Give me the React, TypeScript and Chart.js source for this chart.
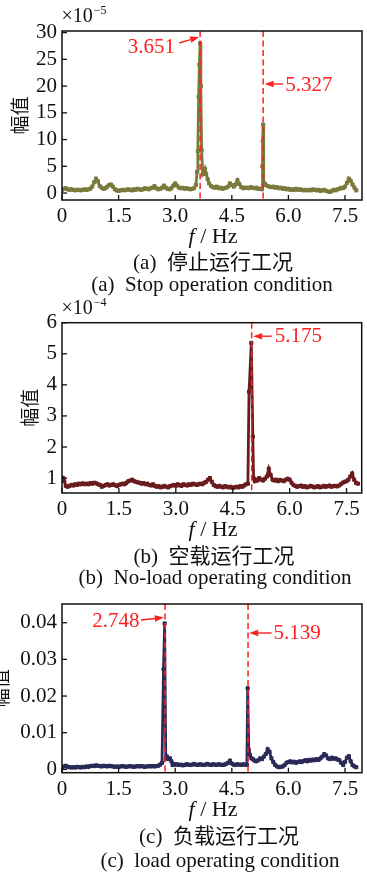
import React, { useEffect, useRef } from "react";
import { Chart, registerables } from "chart.js";
Chart.register(...registerables);

// ---------- DATA ----------
const xTicks = [0, 1.5, 3.0, 4.5, 6.0, 7.5];
const yTicksA = [0, 5, 10, 15, 20, 25, 30];
const yTicksB = [1, 2, 3, 4, 5, 6];
const yTicksC = [0, 0.01, 0.02, 0.03, 0.04];

// (a) stop condition, amplitude x1e-5
const freqA = [
  0.0, 0.05, 0.1, 0.15, 0.2, 0.25, 0.3, 0.35, 0.4, 0.45, 0.5, 0.55, 0.6, 0.65, 0.7, 0.75, 0.8, 0.85, 0.9, 0.95,
  1.0, 1.05, 1.1, 1.15, 1.2, 1.25, 1.3, 1.35, 1.4, 1.45, 1.5, 1.55, 1.6, 1.65, 1.7, 1.75, 1.8, 1.85, 1.9, 1.95,
  2.0, 2.05, 2.1, 2.15, 2.2, 2.25, 2.3, 2.35, 2.4, 2.45, 2.5, 2.55, 2.6, 2.65, 2.7, 2.75, 2.8, 2.85, 2.9, 2.95,
  3.0, 3.05, 3.1, 3.15, 3.2, 3.25, 3.3, 3.35, 3.4, 3.45, 3.5, 3.55, 3.58, 3.6, 3.62, 3.64, 3.66, 3.68, 3.7, 3.73,
  3.76, 3.79, 3.82, 3.86, 3.9, 3.95, 4.0, 4.05, 4.1, 4.15, 4.2, 4.25, 4.3, 4.35, 4.4, 4.45, 4.5, 4.55, 4.6, 4.65,
  4.7, 4.75, 4.8, 4.85, 4.9, 4.95, 5.0, 5.05, 5.1, 5.15, 5.2, 5.25, 5.3, 5.31, 5.32, 5.33, 5.345, 5.37, 5.4, 5.45,
  5.5, 5.55, 5.6, 5.65, 5.7, 5.75, 5.8, 5.85, 5.9, 5.95, 6.0, 6.05, 6.1, 6.15, 6.2, 6.25, 6.3, 6.35, 6.4, 6.45,
  6.5, 6.55, 6.6, 6.65, 6.7, 6.75, 6.8, 6.85, 6.9, 6.95, 7.0, 7.05, 7.1, 7.15, 7.2, 7.25, 7.3, 7.35, 7.4, 7.45,
  7.5, 7.55, 7.6, 7.65, 7.7, 7.75, 7.8,
];
const ampA = [
  0.6, 0.8, 0.9, 0.7, 0.6, 0.7, 0.6, 0.5, 0.6, 0.6, 0.5, 0.6, 0.7, 0.6, 0.7, 0.8, 1.2, 2.0, 2.7, 2.2,
  1.3, 1.0, 0.8, 0.9, 1.2, 1.5, 1.6, 1.2, 0.7, 0.5, 0.4, 0.5, 0.6, 0.5, 0.6, 0.7, 0.6, 0.5, 0.7, 0.6,
  0.8, 0.7, 0.6, 0.7, 0.9, 0.8, 0.7, 0.9, 1.0, 1.3, 0.9, 0.7, 0.8, 1.0, 1.4, 1.0, 0.8, 0.7, 0.9, 1.4,
  1.8, 1.4, 1.0, 0.9, 1.0, 0.8, 0.9, 0.8, 0.7, 0.8, 0.9, 1.5, 4.0, 7.8, 18.0, 24.0, 28.0, 20.0, 8.0, 3.5,
  3.8, 4.5, 3.6, 2.6, 1.8, 1.3, 1.1, 1.0, 1.2, 0.9, 1.0, 0.8, 0.9, 1.0, 1.2, 1.8, 1.5, 1.2, 1.6, 2.4,
  1.7, 1.1, 0.9, 1.0, 1.0, 0.9, 1.1, 1.0, 0.9, 1.0, 0.8, 0.8, 0.7, 5.0, 9.7, 12.8, 1.5, 1.8, 1.5, 1.3,
  1.2, 1.1, 1.2, 1.0, 1.1, 0.9, 1.0, 0.8, 0.9, 0.7, 0.8, 0.6, 0.7, 0.6, 0.8, 0.6, 0.7, 0.6, 0.5, 0.6,
  0.5, 0.6, 0.5, 0.7, 0.6, 0.5, 0.6, 0.4, 0.5, 0.6, 0.4, 0.3, 0.2, 0.4, 0.6, 0.5, 0.7, 0.8, 1.0, 0.9,
  1.2, 1.9, 2.7, 2.3, 1.6, 1.0, 0.5,
];

// (b) no-load condition, amplitude x1e-4
const freqB = [
  0.0, 0.03, 0.06, 0.1, 0.15, 0.2, 0.25, 0.3, 0.35, 0.4, 0.45, 0.5, 0.55, 0.6, 0.65, 0.7, 0.75, 0.8, 0.85, 0.9,
  0.95, 1.0, 1.05, 1.1, 1.15, 1.2, 1.25, 1.3, 1.35, 1.4, 1.45, 1.5, 1.55, 1.6, 1.65, 1.7, 1.75, 1.8, 1.85, 1.9,
  1.95, 2.0, 2.05, 2.1, 2.15, 2.2, 2.25, 2.3, 2.35, 2.4, 2.45, 2.5, 2.55, 2.6, 2.65, 2.7, 2.75, 2.8, 2.85, 2.9,
  2.95, 3.0, 3.05, 3.1, 3.15, 3.2, 3.25, 3.3, 3.35, 3.4, 3.45, 3.5, 3.55, 3.6, 3.65, 3.7, 3.75, 3.8, 3.85, 3.9,
  3.95, 4.0, 4.05, 4.1, 4.15, 4.2, 4.25, 4.3, 4.35, 4.4, 4.45, 4.5, 4.55, 4.6, 4.65, 4.7, 4.75, 4.8, 4.85, 4.9,
  4.93, 4.99, 5.03, 5.05, 5.08, 5.12, 5.15, 5.2, 5.25, 5.3, 5.35, 5.4, 5.45, 5.5, 5.55, 5.6, 5.65, 5.7, 5.75, 5.8,
  5.85, 5.9, 5.95, 6.0, 6.05, 6.1, 6.15, 6.2, 6.25, 6.3, 6.35, 6.4, 6.45, 6.5, 6.55, 6.6, 6.65, 6.7, 6.75, 6.8,
  6.85, 6.9, 6.95, 7.0, 7.05, 7.1, 7.15, 7.2, 7.25, 7.3, 7.35, 7.4, 7.45, 7.5, 7.55, 7.6, 7.65, 7.7, 7.75, 7.8,
];
const ampB = [
  0.95, 1.0, 0.9, 0.75, 0.72, 0.75, 0.78, 0.76, 0.8, 0.78, 0.82, 0.8, 0.83, 0.8, 0.82, 0.8, 0.84, 0.82, 0.85, 0.83,
  0.8, 0.78, 0.72, 0.75, 0.78, 0.8, 0.76, 0.78, 0.8, 0.77, 0.74, 0.78, 0.8, 0.82, 0.8, 0.85, 0.9, 0.92, 0.95, 0.9,
  0.88, 0.86, 0.85, 0.82, 0.84, 0.8, 0.82, 0.78, 0.76, 0.8, 0.75, 0.72, 0.74, 0.7, 0.72, 0.75, 0.72, 0.7, 0.74, 0.76,
  0.78, 0.75, 0.8, 0.77, 0.75, 0.8, 0.78, 0.76, 0.8, 0.78, 0.82, 0.8, 0.78, 0.8, 0.82, 0.8, 0.85, 0.88, 0.95, 1.0,
  0.88, 0.78, 0.74, 0.72, 0.75, 0.72, 0.7, 0.74, 0.72, 0.7, 0.72, 0.68, 0.7, 0.72, 0.7, 0.74, 0.72, 0.76, 0.8, 0.82,
  3.78, 5.35, 2.33, 1.0, 0.9, 0.95, 0.92, 1.0, 0.95, 0.92, 0.98, 1.05, 1.3, 1.1, 0.95, 0.92, 0.95, 0.9, 0.94, 0.92,
  0.9, 0.95, 0.98, 0.95, 0.85, 0.78, 0.75, 0.72, 0.74, 0.76, 0.72, 0.74, 0.7, 0.72, 0.75, 0.73, 0.7, 0.72, 0.74, 0.7,
  0.72, 0.75, 0.72, 0.74, 0.76, 0.72, 0.74, 0.75, 0.73, 0.76, 0.8, 0.85, 0.88, 0.9, 0.95, 1.05, 1.15, 0.95, 0.85, 0.82,
];

// (c) load condition, amplitude
const freqC = [
  0.0, 0.05, 0.1, 0.15, 0.2, 0.25, 0.3, 0.35, 0.4, 0.45, 0.5, 0.55, 0.6, 0.65, 0.7, 0.75, 0.8, 0.85, 0.9, 0.95,
  1.0, 1.05, 1.1, 1.15, 1.2, 1.25, 1.3, 1.35, 1.4, 1.45, 1.5, 1.55, 1.6, 1.65, 1.7, 1.75, 1.8, 1.85, 1.9, 1.95,
  2.0, 2.05, 2.1, 2.15, 2.2, 2.25, 2.3, 2.35, 2.4, 2.45, 2.5, 2.55, 2.6, 2.65, 2.69, 2.72, 2.75, 2.78, 2.82, 2.86,
  2.9, 2.93, 2.96, 3.0, 3.05, 3.1, 3.15, 3.2, 3.25, 3.3, 3.35, 3.4, 3.45, 3.5, 3.55, 3.6, 3.65, 3.7, 3.75, 3.8,
  3.85, 3.9, 3.95, 4.0, 4.05, 4.1, 4.15, 4.2, 4.25, 4.3, 4.35, 4.4, 4.45, 4.5, 4.55, 4.6, 4.65, 4.7, 4.75, 4.8,
  4.85, 4.9, 4.92, 4.95, 4.98, 5.02, 5.06, 5.1, 5.15, 5.2, 5.25, 5.3, 5.35, 5.4, 5.45, 5.5, 5.55, 5.6, 5.65, 5.7,
  5.75, 5.8, 5.85, 5.9, 5.95, 6.0, 6.05, 6.1, 6.15, 6.2, 6.25, 6.3, 6.35, 6.4, 6.45, 6.5, 6.55, 6.6, 6.65, 6.7,
  6.75, 6.8, 6.85, 6.9, 6.95, 7.0, 7.05, 7.1, 7.15, 7.2, 7.25, 7.3, 7.35, 7.4, 7.45, 7.5, 7.55, 7.6, 7.65, 7.7,
  7.75, 7.8,
];
const ampC = [
  0.0006, 0.0008, 0.001, 0.0007, 0.0006, 0.0005, 0.0006, 0.0005, 0.0007, 0.0006, 0.0005, 0.0007, 0.0006, 0.0008, 0.0007, 0.0009, 0.001, 0.0009, 0.0011, 0.001,
  0.0009, 0.0008, 0.001, 0.0009, 0.0008, 0.001, 0.0009, 0.0008, 0.0007, 0.0008, 0.0007, 0.0008, 0.0009, 0.0008, 0.0007, 0.0008, 0.0009, 0.0008, 0.0007, 0.0008,
  0.0009, 0.0008, 0.0009, 0.0008, 0.0007, 0.0008, 0.0009, 0.0008, 0.0009, 0.0008, 0.0009, 0.001, 0.0013, 0.0018, 0.0273, 0.0398, 0.003, 0.0035, 0.0028, 0.003,
  0.0022, 0.0012, 0.0015, 0.0013, 0.0014, 0.0012, 0.0013, 0.0011, 0.0012, 0.0014, 0.0013, 0.0012, 0.0013, 0.0015, 0.0013, 0.0012, 0.0014, 0.0013, 0.0012, 0.0013,
  0.0015, 0.0013, 0.0012, 0.0014, 0.0013, 0.0012, 0.0014, 0.0013, 0.0012, 0.0013, 0.0015, 0.0018, 0.0024, 0.0016, 0.0013, 0.0012, 0.0014, 0.0013, 0.0012, 0.0014,
  0.0013, 0.0012, 0.0221, 0.0053, 0.004, 0.003, 0.0028, 0.0024, 0.0022, 0.0025, 0.003, 0.0028, 0.0035, 0.0042, 0.0055, 0.0048, 0.003, 0.002, 0.0012, 0.0008,
  0.0006, 0.0007, 0.0008, 0.0012, 0.0018, 0.002, 0.0022, 0.0019, 0.0021, 0.0018, 0.002, 0.0022, 0.002, 0.0023, 0.0025, 0.0022, 0.0026, 0.0024, 0.0027, 0.0025,
  0.0028, 0.0026, 0.003, 0.0035, 0.0042, 0.0038, 0.003, 0.0028, 0.0032, 0.0029, 0.003, 0.0027, 0.0025, 0.0018, 0.0012, 0.002, 0.0032, 0.0036, 0.0022, 0.0012,
  0.0008, 0.0006,
];

// marked peak frequencies (as drawn) and their labels
const peakFreqA = [3.66, 5.33];
const peakLabelA = ["3.651", "5.327"];
const peakFreqB = [5.0];
const peakLabelB = ["5.175"];
const peakFreqC = [2.73, 4.93];
const peakLabelC = ["2.748", "5.139"];

// ---------- STYLE ----------
const SERIF = '"Liberation Serif", "Times New Roman", "Noto Sans CJK SC", serif';
const RED = "#ff1f1f";

type Ann = { side: "left" | "right"; ty: number; gap: number; tail: [number, number]; head: [number, number] };

type PanelCfg = {
  top: number;
  height: number;
  padTop: number;
  padRight: number;
  xAxisH: number;
  xMax: number;
  yMin: number;
  yMax: number;
  yTicks: number[];
  yFmt: (v: number) => string;
  freq: number[];
  amp: number[];
  color: string;
  peaks: number[];
  labels: string[];
  anns: Ann[];
  exp: string | null;
  yTitlePad: number;
};

const panels: PanelCfg[] = [
  {
    top: 0, height: 228, padTop: 31, padRight: 0.5, xAxisH: 28, xMax: 7.95, yMin: -1.3, yMax: 30.3,
    yTicks: yTicksA, yFmt: (v) => String(v), freq: freqA, amp: ampA, color: "#7b7a3c",
    peaks: peakFreqA, labels: peakLabelA,
    anns: [
      { side: "left", ty: 16, gap: 25, tail: [-21, 12], head: [-1, 6] },
      { side: "right", ty: 54, gap: 22, tail: [20, 53], head: [1.5, 53] },
    ],
    exp: "-5", yTitlePad: 10.6,
  },
  {
    top: 290, height: 230, padTop: 32.7, padRight: 5.3, xAxisH: 27, xMax: 7.9, yMin: 0.52, yMax: 6.0,
    yTicks: yTicksB, yFmt: (v) => String(v), freq: freqB, amp: ampB, color: "#6a1c1f",
    peaks: peakFreqB, labels: peakLabelB,
    anns: [{ side: "right", ty: 14, gap: 23, tail: [20, 13.5], head: [1.5, 13.5] }],
    exp: "-4", yTitlePad: 20.6,
  },
  {
    top: 570, height: 230, padTop: 34, padRight: 2.5, xAxisH: 27.3, xMax: 7.95, yMin: -0.0009, yMax: 0.0451,
    yTicks: yTicksC, yFmt: (v) => (v === 0 ? "0" : v.toFixed(2)), freq: freqC, amp: ampC, color: "#2b2a58",
    peaks: peakFreqC, labels: peakLabelC,
    anns: [
      { side: "left", ty: 17.7, gap: 25.5, tail: [-24, 16], head: [-1.2, 13.5] },
      { side: "right", ty: 29.3, gap: 25.5, tail: [23.5, 29], head: [1.2, 29] },
    ],
    exp: null, yTitlePad: -8.4,
  },
];

const captions = [
  { cy: 237, zh: "(a)  停止运行工况", en: "(a)  Stop operation condition", zy: 263, ey: 285, zx: 213, ex: 212 },
  { cy: 530, zh: "(b)  空载运行工况", en: "(b)  No-load operating condition", zy: 557, ey: 578, zx: 214, ex: 215 },
  { cy: 810, zh: "(c)  负载运行工况", en: "(c)  load operating condition", zy: 837, ey: 861, zx: 219, ex: 220 },
];

function drawArrow(ctx: CanvasRenderingContext2D, x1: number, y1: number, x2: number, y2: number) {
  const ang = Math.atan2(y2 - y1, x2 - x1);
  const hl = 9, hw = 3.2;
  const bx = x2 - hl * Math.cos(ang), by = y2 - hl * Math.sin(ang);
  ctx.beginPath();
  ctx.moveTo(x1, y1);
  ctx.lineTo(bx, by);
  ctx.lineWidth = 1.4;
  ctx.strokeStyle = RED;
  ctx.stroke();
  ctx.beginPath();
  ctx.moveTo(x2, y2);
  ctx.lineTo(bx + hw * Math.sin(ang), by - hw * Math.cos(ang));
  ctx.lineTo(bx - hw * Math.sin(ang), by + hw * Math.cos(ang));
  ctx.closePath();
  ctx.fillStyle = RED;
  ctx.fill();
}

function Panel({ cfg }: { cfg: PanelCfg }) {
  const ref = useRef<HTMLCanvasElement>(null);
  useEffect(() => {
    if (!ref.current) return;
    const overlay = {
      id: "overlay",
      afterDatasetsDraw(chart: any) {
        const ctx: CanvasRenderingContext2D = chart.ctx;
        const { left, right, top, bottom } = chart.chartArea;
        const xs = chart.scales.x, ys = chart.scales.y;
        ctx.save();
        // dashed peak lines
        ctx.setLineDash([6, 3.5]);
        ctx.strokeStyle = RED;
        ctx.lineWidth = 1.5;
        cfg.peaks.forEach((f) => {
          const px = xs.getPixelForValue(f);
          ctx.beginPath();
          ctx.moveTo(px, top);
          ctx.lineTo(px, bottom);
          ctx.stroke();
        });
        ctx.setLineDash([]);
        // annotations
        ctx.font = `21px ${SERIF}`;
        ctx.textBaseline = "middle";
        cfg.anns.forEach((a, i) => {
          const px = xs.getPixelForValue(cfg.peaks[i]);
          const ty = top + a.ty;
          ctx.fillStyle = RED;
          if (a.side === "left") {
            ctx.textAlign = "right";
            ctx.fillText(cfg.labels[i], px - a.gap, ty);
          } else {
            ctx.textAlign = "left";
            ctx.fillText(cfg.labels[i], px + a.gap, ty);
          }
          drawArrow(ctx, px + a.tail[0], top + a.tail[1], px + a.head[0], top + a.head[1]);
        });
        // frame
        ctx.strokeStyle = "#111";
        ctx.lineWidth = 1.5;
        ctx.strokeRect(left, top, right - left, bottom - top);
        // inward ticks
        ctx.lineWidth = 1.3;
        xTicks.forEach((t) => {
          const px = xs.getPixelForValue(t);
          ctx.beginPath();
          ctx.moveTo(px, bottom);
          ctx.lineTo(px, bottom - 5);
          ctx.stroke();
        });
        cfg.yTicks.forEach((t) => {
          const py = ys.getPixelForValue(t);
          ctx.beginPath();
          ctx.moveTo(left, py);
          ctx.lineTo(left + 5, py);
          ctx.stroke();
        });
        // exponent
        if (cfg.exp) {
          ctx.fillStyle = "#111";
          ctx.textAlign = "left";
          ctx.textBaseline = "alphabetic";
          ctx.font = `20px ${SERIF}`;
          ctx.fillText("×10", left - 0.5, top - 9);
          const w = ctx.measureText("×10").width;
          ctx.font = `12px ${SERIF}`;
          ctx.fillText(cfg.exp.replace("-", "\u2212"), left + w + 0.5, top - 17);
        }
        ctx.restore();
      },
    };
    const chart = new Chart(ref.current, {
      type: "line",
      data: {
        datasets: [
          {
            data: cfg.freq.map((f, i) => ({ x: f, y: cfg.amp[i] })),
            borderColor: cfg.color,
            backgroundColor: cfg.color,
            borderWidth: 2.8,
            pointStyle: "rect",
            pointRadius: 2.2,
            pointBorderWidth: 1,
            tension: 0,
          },
        ],
      },
      options: {
        animation: false,
        responsive: false,
        maintainAspectRatio: false,
        events: [],
        layout: { padding: { top: cfg.padTop, right: cfg.padRight, left: 0, bottom: 0 } },
        plugins: { legend: { display: false }, tooltip: { enabled: false } },
        scales: {
          x: {
            type: "linear",
            min: 0,
            max: cfg.xMax,
            grid: { display: false, drawTicks: false },
            border: { display: false },
            afterBuildTicks: (s: any) => { s.ticks = xTicks.map((v) => ({ value: v })); },
            afterFit: (s: any) => { s.height = cfg.xAxisH; },
            ticks: {
              padding: 4,
              maxRotation: 0,
              autoSkip: false,
              color: "#111",
              font: { family: SERIF, size: 21 },
              callback: (v: any) => (v === 0 ? "0" : Number(v).toFixed(1)),
            },
          },
          y: {
            type: "linear",
            min: cfg.yMin,
            max: cfg.yMax,
            grid: { display: false, drawTicks: false },
            border: { display: false },
            afterBuildTicks: (s: any) => { s.ticks = cfg.yTicks.map((v) => ({ value: v })); },
            afterFit: (s: any) => { s.width = 62; },
            title: {
              display: true,
              text: "幅值",
              color: "#111",
              font: { family: SERIF, size: 19 },
              padding: { top: cfg.yTitlePad, bottom: 0 },
            },
            ticks: {
              padding: 5,
              autoSkip: false,
              color: "#111",
              font: { family: SERIF, size: 21 },
              callback: (v: any) => cfg.yFmt(Number(v)),
            },
          },
        },
      },
      plugins: [overlay],
    } as any);
    return () => chart.destroy();
  }, [cfg]);
  return (
    <canvas
      ref={ref}
      width={367}
      height={cfg.height}
      style={{ position: "absolute", left: 0, top: cfg.top, width: 367, height: cfg.height }}
    />
  );
}

function Line({ text, cx, cy, size, italicF }: { text: string; cx: number; cy: number; size: number; italicF?: boolean }) {
  return (
    <div
      style={{
        position: "absolute",
        left: cx - 200,
        width: 400,
        top: cy - size / 2 - 1,
        height: size,
        lineHeight: `${size}px`,
        fontSize: size,
        fontFamily: SERIF,
        textAlign: "center",
        whiteSpace: "pre",
        color: "#111",
      }}
    >
      {italicF ? (
        <>
          <span style={{ fontStyle: "italic" }}>f</span>
          {" / Hz"}
        </>
      ) : (
        text
      )}
    </div>
  );
}

export default function App() {
  return (
    <div style={{ position: "absolute", left: 0, top: 0, width: 367, height: 873, background: "#fff", overflow: "hidden" }}>
      {panels.map((p, i) => (
        <Panel key={i} cfg={p} />
      ))}
      {captions.map((c, i) => (
        <React.Fragment key={"c" + i}>
          <Line text="f / Hz" cx={213} cy={c.cy} size={22} italicF />
          <Line text={c.zh} cx={c.zx} cy={c.zy} size={21} />
          <Line text={c.en} cx={c.ex} cy={c.ey} size={21} />
        </React.Fragment>
      ))}
    </div>
  );
}
